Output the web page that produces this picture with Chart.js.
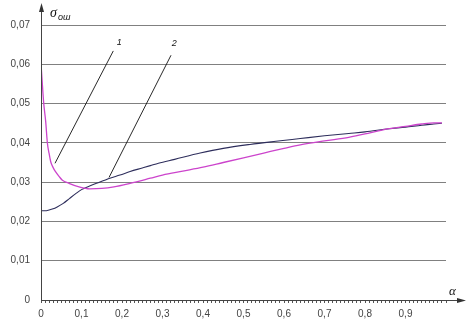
<!DOCTYPE html>
<html><head><meta charset="utf-8">
<script src="https://cdn.jsdelivr.net/npm/chart.js@4/dist/chart.umd.min.js"></script>
<style>html,body{margin:0;padding:0;background:#fff}#wrap{width:468px;height:327px}</style>
</head><body><div id="wrap"><canvas id="c" width="468" height="327"></canvas></div>
<script>
// Curve 1 (magenta)
const alpha1 = [0, 0.0035, 0.0067, 0.0116, 0.0158, 0.02, 0.024, 0.03, 0.0363, 0.045, 0.0528, 0.069, 0.094, 0.12, 0.15, 0.18, 0.22, 0.27, 0.3, 0.35, 0.4, 0.45, 0.5, 0.55, 0.6, 0.64, 0.7, 0.76, 0.8, 0.86, 0.9, 0.94, 0.97, 0.99];
const sigma1 = [0.0602, 0.0547, 0.0501, 0.0454, 0.0399, 0.0373, 0.0352, 0.0337, 0.0326, 0.0314, 0.0305, 0.0297, 0.0288, 0.0283, 0.0284, 0.0288, 0.0297, 0.0310, 0.0318, 0.0328, 0.0338, 0.0350, 0.0362, 0.0374, 0.0386, 0.0395, 0.0405, 0.0414, 0.0423, 0.0436, 0.0442, 0.0448, 0.0451, 0.0451];
// Curve 2 (dark blue)
const alpha2 = [0, 0.01, 0.02, 0.03, 0.04, 0.055, 0.07, 0.085, 0.1, 0.12, 0.137, 0.155, 0.17, 0.195, 0.22, 0.25, 0.27, 0.29, 0.33, 0.393, 0.45, 0.516, 0.58, 0.64, 0.7, 0.76, 0.8, 0.86, 0.9, 0.94, 0.97, 0.99];
const sigma2 = [0.0227, 0.0227, 0.0229, 0.0232, 0.0237, 0.0246, 0.0258, 0.0270, 0.0281, 0.0290, 0.0297, 0.0304, 0.0310, 0.0318, 0.0327, 0.0336, 0.0342, 0.0348, 0.0358, 0.0374, 0.0386, 0.0396, 0.0404, 0.0411, 0.0418, 0.0424, 0.0428, 0.0436, 0.0440, 0.0445, 0.0448, 0.0450];
// Leader lines and their labels
const lead1X = [0.0346, 0.1785], lead1Y = [0.0348, 0.0634];
const lead2X = [0.168, 0.321], lead2Y = [0.0312, 0.0623];
const curveLabels = ['1', '2'];
const labelX = [0.193, 0.329], labelY = [0.0655, 0.0653];
// Ticks
const yTicks = [0, 0.01, 0.02, 0.03, 0.04, 0.05, 0.06, 0.07];
const xLabelTicks = [0, 0.1, 0.2, 0.3, 0.4, 0.5, 0.6, 0.7, 0.8, 0.9];

const pts = (xs, ys) => xs.map((x, i) => ({x: x, y: ys[i]}));
const fmt = v => String(+v.toFixed(2)).replace('.', ',');

const deco = {
  id: 'deco',
  afterDraw(chart) {
    const ctx = chart.ctx, a = chart.chartArea;
    const xs = chart.scales.x, ys = chart.scales.y;
    ctx.save();
    ctx.strokeStyle = '#444'; ctx.fillStyle = '#333'; ctx.lineWidth = 1;
    // y axis with arrow
    ctx.beginPath(); ctx.moveTo(a.left + 0.5, a.bottom); ctx.lineTo(a.left + 0.5, 6); ctx.stroke();
    ctx.beginPath(); ctx.moveTo(a.left + 0.5, 3); ctx.lineTo(a.left - 2, 12); ctx.lineTo(a.left + 3, 12); ctx.closePath(); ctx.fill();
    // x axis with arrow
    ctx.beginPath(); ctx.moveTo(a.left, a.bottom + 0.5); ctx.lineTo(462, a.bottom + 0.5); ctx.stroke();
    ctx.beginPath(); ctx.moveTo(466, a.bottom + 0.5); ctx.lineTo(457, a.bottom - 2); ctx.lineTo(457, a.bottom + 3); ctx.closePath(); ctx.fill();
    // axis titles
    ctx.fillStyle = '#111';
    ctx.textBaseline = 'alphabetic';
    ctx.font = 'italic 14px "Liberation Serif", serif';
    ctx.fillText('σ', 50, 17);
    ctx.font = 'italic 9px "Liberation Sans", Arial, sans-serif';
    ctx.fillText('ош', 58, 20);
    ctx.font = 'italic 13px "Liberation Serif", serif';
    ctx.fillText('α', 449, 295);
    // curve labels
    ctx.font = 'italic 9px "Liberation Sans", Arial, sans-serif';
    ctx.textAlign = 'center'; ctx.textBaseline = 'middle';
    curveLabels.forEach((t, i) => ctx.fillText(t, xs.getPixelForValue(labelX[i]), ys.getPixelForValue(labelY[i])));
    ctx.restore();
  }
};

new Chart(document.getElementById('c'), {
  type: 'line',
  data: {
    datasets: [
      {data: pts(alpha1, sigma1), borderColor: '#cc44cc', borderWidth: 1.3, pointRadius: 0, cubicInterpolationMode: 'monotone', fill: false},
      {data: pts(alpha2, sigma2), borderColor: '#2e2e5c', borderWidth: 1.1, pointRadius: 0, cubicInterpolationMode: 'monotone', fill: false},
      {data: pts(lead1X, lead1Y), borderColor: '#111', borderWidth: 0.9, pointRadius: 0, tension: 0},
      {data: pts(lead2X, lead2Y), borderColor: '#111', borderWidth: 0.9, pointRadius: 0, tension: 0}
    ]
  },
  options: {
    responsive: false, animation: false,
    layout: {padding: {top: 25, right: 22, left: 0, bottom: 0}},
    plugins: {legend: {display: false}, tooltip: {enabled: false}},
    scales: {
      x: {
        type: 'linear', min: 0, max: 1,
        afterFit: s => { s.height = 27; },
        afterBuildTicks: s => { const t = []; for (let i = 0; i <= 100; i++) t.push({value: i / 100}); s.ticks = t; },
        ticks: {
          autoSkip: false, maxRotation: 0, minRotation: 0, padding: 5,
          color: '#444', font: {family: '"Liberation Sans", Arial, sans-serif', size: 10},
          callback: v => xLabelTicks.some(t => Math.abs(t - v) < 1e-6) ? fmt(v) : ''
        },
        grid: {drawOnChartArea: false, drawTicks: true, tickLength: 3, color: '#555', lineWidth: 1},
        border: {display: false}
      },
      y: {
        min: 0, max: 0.07,
        afterFit: s => { s.width = 41; },
        afterBuildTicks: s => { s.ticks = yTicks.map(v => ({value: v})); },
        ticks: {
          padding: 11, color: '#444', font: {family: '"Liberation Sans", Arial, sans-serif', size: 10},
          callback: v => fmt(v)
        },
        grid: {color: ctx => ctx.tick && ctx.tick.value === 0 ? 'rgba(0,0,0,0)' : '#808080', lineWidth: 1, drawTicks: false},
        border: {display: false}
      }
    }
  },
  plugins: [deco]
});
</script>
</body></html>
